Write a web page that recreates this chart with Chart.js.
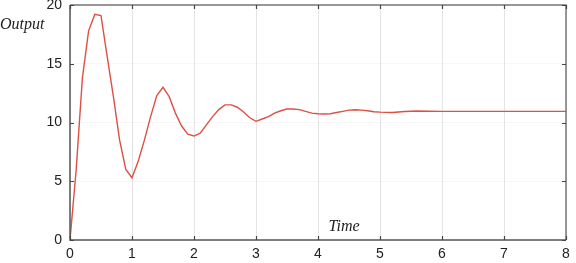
<!DOCTYPE html>
<html>
<head>
<meta charset="utf-8">
<script src="https://cdn.jsdelivr.net/npm/chart.js@4"></script>
<style>
  html, body { margin: 0; padding: 0; background: #fff; }
  #wrap { width: 576px; height: 263px; position: relative; }
</style>
</head>
<body>
<div id="wrap"><canvas id="chart"></canvas></div>
<script>
// step response
const timeValues = [
  0, 0.1, 0.2, 0.3, 0.4, 0.5, 0.6, 0.7, 0.8, 0.9,
  1.0, 1.1, 1.2, 1.3, 1.4, 1.5, 1.6, 1.7, 1.8, 1.9,
  2.0, 2.1, 2.2, 2.3, 2.4, 2.5, 2.6, 2.7, 2.8, 2.9,
  3.0, 3.1, 3.2, 3.3, 3.4, 3.5, 3.6, 3.7, 3.8, 3.9,
  4.0, 4.1, 4.2, 4.3, 4.4, 4.5, 4.6, 4.7, 4.8, 4.9,
  5.0, 5.2, 5.4, 5.6, 5.8, 6.0, 6.5, 7.0, 7.5, 8.0
];
const outputValues = [
  0, 6.0, 13.8, 17.8, 19.2, 19.1, 15.6, 12.2, 8.5, 6.0,
  5.3, 6.7, 8.5, 10.5, 12.3, 13.0, 12.2, 10.8, 9.7, 9.0,
  8.85, 9.1, 9.8, 10.5, 11.1, 11.5, 11.5, 11.3, 10.9, 10.4,
  10.1, 10.3, 10.5, 10.8, 11.0, 11.15, 11.15, 11.1, 10.95, 10.8,
  10.75, 10.72, 10.75, 10.85, 10.95, 11.05, 11.08, 11.05, 11.0, 10.92,
  10.88, 10.85, 10.93, 10.98, 10.96, 10.95, 10.95, 10.95, 10.95, 10.95
];
const xTicks = [0, 1, 2, 3, 4, 5, 6, 7, 8];
const yTicks = [0, 5, 10, 15, 20];

const xLabel = 'Time';
const yLabel = 'Output';

const points = timeValues.map((t, i) => ({ x: t, y: outputValues[i] }));

// box frame, inward ticks and the two italic labels
const framePlugin = {
  id: 'frame',
  afterDraw(chart) {
    const ctx = chart.ctx;
    const a = chart.chartArea;
    const xs = chart.scales.x;
    const ys = chart.scales.y;
    ctx.save();
    ctx.lineWidth = 1.5;
    ctx.strokeStyle = '#777';
    ctx.beginPath();
    ctx.moveTo(a.left, a.top);
    ctx.lineTo(a.right, a.top);
    ctx.lineTo(a.right, a.bottom);
    ctx.stroke();
    ctx.strokeStyle = '#555';
    ctx.beginPath();
    ctx.moveTo(a.left, a.top);
    ctx.lineTo(a.left, a.bottom);
    ctx.lineTo(a.right, a.bottom);
    ctx.stroke();

    ctx.lineWidth = 1.2;
    ctx.strokeStyle = '#444';
    ctx.beginPath();
    xTicks.forEach(v => {
      const px = Math.round(xs.getPixelForValue(v)) + 0.5;
      ctx.moveTo(px, a.bottom); ctx.lineTo(px, a.bottom - 4);
      ctx.moveTo(px, a.top); ctx.lineTo(px, a.top + 4);
    });
    yTicks.forEach(v => {
      const py = Math.round(ys.getPixelForValue(v)) + 0.5;
      ctx.moveTo(a.left, py); ctx.lineTo(a.left + 4, py);
      ctx.moveTo(a.right, py); ctx.lineTo(a.right - 4, py);
    });
    ctx.stroke();

    ctx.fillStyle = '#222';
    ctx.font = 'italic 16px "Liberation Serif", "DejaVu Serif", serif';
    ctx.textBaseline = 'middle';
    ctx.textAlign = 'left';
    ctx.fillText(yLabel, 0, 25);
    ctx.textAlign = 'center';
    ctx.fillText(xLabel, 344, 227);
    ctx.restore();
  }
};

new Chart(document.getElementById('chart'), {
  type: 'line',
  data: {
    datasets: [{
      data: points,
      borderColor: 'rgb(221, 80, 68)',
      borderWidth: 1.4,
      pointRadius: 0,
      tension: 0,
      fill: false
    }]
  },
  options: {
    responsive: true,
    maintainAspectRatio: false,
    animation: false,
    layout: { padding: { top: 5, right: 10, left: 0, bottom: 0 } },
    plugins: {
      legend: { display: false },
      tooltip: { enabled: false }
    },
    scales: {
      x: {
        type: 'linear',
        min: 0,
        max: 8,
        afterBuildTicks: s => { s.ticks = xTicks.map(v => ({ value: v })); },
        afterFit: s => { s.height = 23; s.paddingLeft = 0; s.paddingRight = 0; },
        border: { display: false },
        grid: { color: '#e4e4e4', lineWidth: 1, drawTicks: false },
        ticks: {
          padding: 6,
          color: '#222',
          font: { family: '"Liberation Sans", Arial, sans-serif', size: 14 }
        }
      },
      y: {
        min: 0,
        max: 20,
        afterBuildTicks: s => { s.ticks = yTicks.map(v => ({ value: v })); },
        afterFit: s => { s.width = 70; s.paddingTop = 0; s.paddingBottom = 0; },
        border: { display: false },
        grid: { color: 'rgba(0,0,0,0.03)', lineWidth: 1, drawTicks: false },
        ticks: {
          padding: 8,
          color: '#222',
          font: { family: '"Liberation Sans", Arial, sans-serif', size: 14 }
        }
      }
    }
  },
  plugins: [framePlugin]
});
</script>
</body>
</html>
